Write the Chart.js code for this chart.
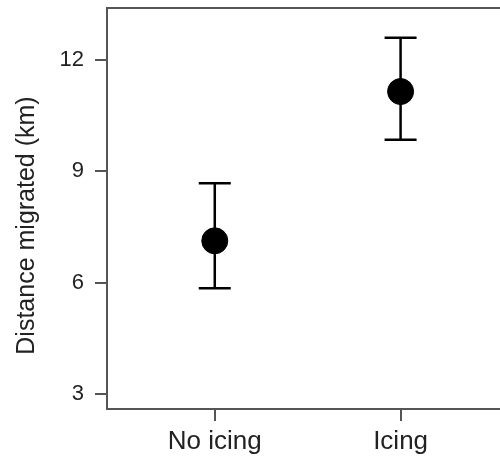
<!DOCTYPE html>
<html>
<head>
<meta charset="utf-8">
<script src="https://cdn.jsdelivr.net/npm/chart.js@4"></script>
<style>
  html, body { margin: 0; padding: 0; background: #fff; overflow: hidden; }
  #wrap { width: 500px; height: 459px; }
</style>
</head>
<body>
<div id="wrap"><canvas id="migrationChart"></canvas></div>
<script>
// Group means and interval bounds (km)
const groups = ['No icing', 'Icing'];
const groupPos = [1, 2];
const meanKm = [7.13, 11.15];
const lowerKm = [5.85, 9.85];
const upperKm = [8.68, 12.6];
const yTicks = [3, 6, 9, 12];
const yTitle = 'Distance migrated (km)';

const axisColor = '#555';
const textColor = '#222';
const family = '"Liberation Sans", Arial, sans-serif';

// Chart.js reserves room for half-labels at the scale ends; the frame should fill the canvas
function fixBox(scale, prop, size) {
  scale[prop] = size;
  scale.paddingLeft = scale.paddingRight = scale.paddingTop = scale.paddingBottom = 0;
}

// Error bars with flat caps, drawn under the points
const errorBars = {
  id: 'errorBars',
  beforeDatasetsDraw(chart) {
    const { ctx, scales: { x, y } } = chart;
    ctx.save();
    ctx.strokeStyle = '#000';
    ctx.lineWidth = 2.5;
    groupPos.forEach((pos, i) => {
      const px = x.getPixelForValue(pos);
      const top = y.getPixelForValue(upperKm[i]);
      const bot = y.getPixelForValue(lowerKm[i]);
      ctx.beginPath();
      ctx.moveTo(px, top);
      ctx.lineTo(px, bot);
      ctx.moveTo(px - 16, top);
      ctx.lineTo(px + 16, top);
      ctx.moveTo(px - 16, bot);
      ctx.lineTo(px + 16, bot);
      ctx.stroke();
    });
    ctx.restore();
  }
};

// Top edge of the frame and the rotated y title
const frameAndTitle = {
  id: 'frameAndTitle',
  afterDraw(chart) {
    const { ctx, chartArea } = chart;
    ctx.save();
    ctx.strokeStyle = axisColor;
    ctx.lineWidth = 2;
    ctx.beginPath();
    ctx.moveTo(chartArea.left - 1, chartArea.top);
    ctx.lineTo(chartArea.right, chartArea.top);
    ctx.stroke();

    ctx.translate(27, (chartArea.top + chartArea.bottom) / 2 + 17);
    ctx.rotate(-Math.PI / 2);
    ctx.fillStyle = textColor;
    ctx.font = '25px ' + family;
    ctx.textAlign = 'center';
    ctx.textBaseline = 'middle';
    ctx.fillText(yTitle, 0, 0);
    ctx.restore();
  }
};

const ctx = document.getElementById('migrationChart').getContext('2d');
const migrationChart = new Chart(ctx, {
  type: 'scatter',
  data: {
    datasets: [{
      data: groupPos.map((pos, i) => ({ x: pos, y: meanKm[i] })),
      backgroundColor: '#000',
      borderColor: '#000',
      pointRadius: 13,
      pointHoverRadius: 13
    }]
  },
  options: {
    responsive: true,
    maintainAspectRatio: false,
    animation: false,
    layout: { autoPadding: false, padding: { top: 8, right: 0, left: 0, bottom: 0 } },
    plugins: {
      legend: { display: false },
      tooltip: { enabled: false }
    },
    scales: {
      x: {
        type: 'linear',
        min: 0.42,
        max: 2.535,
        afterBuildTicks: scale => { scale.ticks = groupPos.map(v => ({ value: v })); },
        afterFit: scale => fixBox(scale, 'height', 50),
        ticks: {
          callback: value => groups[groupPos.indexOf(value)],
          font: { family: family, size: 26 },
          color: textColor,
          padding: 5,
          maxRotation: 0
        },
        grid: {
          drawOnChartArea: false,
          drawTicks: true,
          tickLength: 12,
          color: axisColor,
          lineWidth: 2
        },
        border: { display: true, color: axisColor, width: 2 }
      },
      y: {
        min: 2.6,
        max: 13.4,
        afterBuildTicks: scale => { scale.ticks = yTicks.map(v => ({ value: v })); },
        afterFit: scale => fixBox(scale, 'width', 107),
        ticks: {
          font: { family: family, size: 22 },
          color: textColor,
          padding: 11
        },
        grid: {
          drawOnChartArea: false,
          drawTicks: true,
          tickLength: 12,
          color: axisColor,
          lineWidth: 2
        },
        border: { display: true, color: axisColor, width: 2 }
      }
    }
  },
  plugins: [errorBars, frameAndTitle]
});
</script>
</body>
</html>
